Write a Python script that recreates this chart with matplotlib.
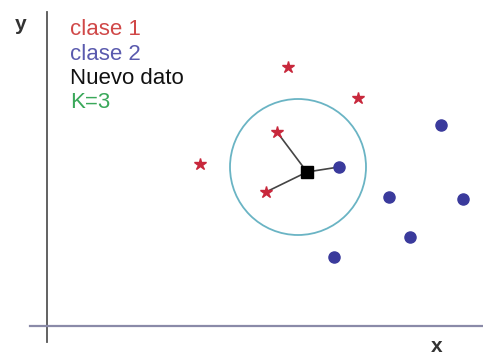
import matplotlib.pyplot as plt
from matplotlib.patches import Circle

plt.rcParams['font.family'] = ['Liberation Sans', 'DejaVu Sans']

# class 1 (stars) and class 2 (dots)
clase1_x = [241, 311, 230, 153, 219]
clase1_y = [259, 228, 194, 162, 134]
clase2_x = [394, 292, 342, 416, 363, 287]
clase2_y = [201, 159, 129, 127, 89, 69]

# new point and its k nearest neighbours
nuevo = (260, 154)
k = 3
vecinos = [(230, 194), (219, 134), (292, 159)]
radio = 68
centro = (251, 159)

fig = plt.figure(figsize=(4.83, 3.58), dpi=100)
ax = fig.add_axes([0, 0, 1, 1])
ax.set_xlim(-47, 436)
ax.set_ylim(-32, 326)
ax.set_aspect('equal')
ax.set_axis_off()

# axes
ax.plot([0, 0], [-16, 314], color='#555555', lw=1.3)
ax.plot([-17, 436], [0, 0], color='#8a8aa8', lw=1.6)
ax.text(-26, 301, 'y', fontsize=15, fontweight='bold', color='#333333', ha='center', va='center')
ax.text(390, -20, 'x', fontsize=15, fontweight='bold', color='#333333', ha='center', va='center')

# neighbourhood circle
ax.add_patch(Circle(centro, radio, fill=False, ec='#6ab4c4', lw=1.3))

# links to the neighbours
for vx, vy in vecinos:
    ax.plot([nuevo[0], vx], [nuevo[1], vy], color='#444444', lw=1.2, zorder=2)

ax.plot(clase1_x, clase1_y, ls='none', marker='*', ms=9, color='#c8283c', zorder=3)
ax.plot(clase2_x, clase2_y, ls='none', marker='o', ms=8, color='#3a3a9c', zorder=3)
ax.plot(*nuevo, marker='s', ms=8, color='black', zorder=4)

# legend text
leyenda = [('clase 1', '#d04848'), ('clase 2', '#5a5aae'),
           ('Nuevo dato', '#111111'), ('K=%d' % k, '#3aa85a')]
for i, (txt, col) in enumerate(leyenda):
    ax.text(23, 291 - i * 24.5, txt, fontsize=16, color=col, ha='left', va='baseline')

fig.savefig('out.png', dpi=100)
